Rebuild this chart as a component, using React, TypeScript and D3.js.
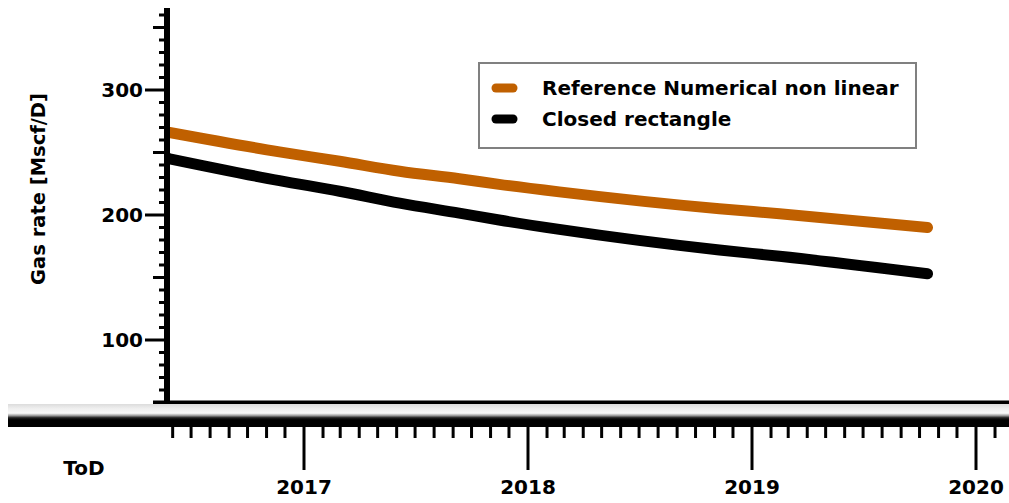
import React from "react";
import * as d3 from "d3";

const dates = ["2016-05-27", "2016-11-22", "2017-02-28", "2017-06-06", "2017-09-11", "2017-11-15", "2018-02-21", "2018-11-09", "2019-02-15", "2019-10-14"];
const refNumerical = [266, 250.5, 243, 235, 229, 224.5, 218.5, 205, 201, 190];
const closedRect = [245, 227.5, 219, 209.5, 201.5, 196, 188.5, 172, 167, 153];
const seriesNames = ["Reference Numerical non linear", "Closed rectangle"];
const seriesColors = ["#c06000", "#000000"];
const yTickLabels = [100, 200, 300];
const yearLabels = ["2017", "2018", "2019", "2020"];

const W = 1009;
const H = 503;
const FONT = "'DejaVu Sans', Verdana, sans-serif";

export default function App() {
  const parse = d3.timeParse("%Y-%m-%d");
  const x = d3
    .scaleTime()
    .domain([new Date(2017, 0, 1), new Date(2020, 0, 1)])
    .range([304, 976]);
  const y = d3.scaleLinear().domain([50, 300]).range([402.5, 90]);
  const axisX = 167;
  const yTop = 8;
  const yMax = y.invert(yTop);

  const line = d3
    .line<[Date, number]>()
    .x((d) => x(d[0]))
    .y((d) => y(d[1]))
    .curve(d3.curveMonotoneX);

  const series = [refNumerical, closedRect].map((vals) =>
    dates.map((s, i) => [parse(s) as Date, vals[i]] as [Date, number])
  );

  const yMinor = d3.range(60, Math.floor(yMax) + 1, 10);
  const monthTicks = d3.timeMonth.range(x.invert(axisX), x.invert(W + 5));

  return (
    <svg width={W} height={H} style={{ position: "absolute", left: 0, top: 0 }}>
      <defs>
        <linearGradient id="band" x1="0" y1="0" x2="0" y2="1">
          <stop offset="0" stopColor="#dcdcdc" />
          <stop offset="0.2" stopColor="#efefef" />
          <stop offset="0.4" stopColor="#fafafa" />
          <stop offset="0.5" stopColor="#a0a0a0" />
          <stop offset="0.6" stopColor="#202020" />
          <stop offset="0.7" stopColor="#000" />
          <stop offset="1" stopColor="#000" />
        </linearGradient>
      </defs>
      <rect x={0} y={0} width={W} height={H} fill="#fff" />

      {/* series */}
      <g>
        {series.map((s, i) => (
          <path
            key={i}
            d={line(s) || ""}
            fill="none"
            stroke={seriesColors[i]}
            strokeWidth={11}
            strokeLinecap="round"
            strokeLinejoin="round"
          />
        ))}
      </g>

      {/* y axis */}
      <rect x={axisX - 3} y={yTop} width={6} height={404 - yTop} fill="#000" />
      {yMinor.map((v) => {
        const len = v % 100 === 0 ? 22 : v % 50 === 0 ? 14 : 8;
        return (
          <line key={v} x1={axisX - len} x2={axisX} y1={y(v)} y2={y(v)} stroke="#000" strokeWidth={3} />
        );
      })}
      {yTickLabels.map((v) => (
        <text
          key={v}
          x={143}
          y={y(v)}
          textAnchor="end"
          dominantBaseline="central"
          fontFamily={FONT}
          fontWeight="bold"
          fontSize={20}
          fill="#000"
        >
          {v}
        </text>
      ))}
      {/* bottom frame line */}
      <rect x={153} y={y(50) - 2} width={W - 153} height={4} fill="#000" />

      {/* bevel band */}
      <rect x={8} y={404} width={W - 8} height={23} fill="url(#band)" />

      {/* x ticks */}
      {monthTicks.map((d, i) => {
        const major = d.getMonth() === 0;
        return (
          <line
            key={i}
            x1={x(d)}
            x2={x(d)}
            y1={426}
            y2={major ? 470 : 438}
            stroke="#000"
            strokeWidth={3}
          />
        );
      })}
      {yearLabels.map((lab) => (
        <text
          key={lab}
          x={x(new Date(+lab, 0, 1))}
          y={487}
          textAnchor="middle"
          dominantBaseline="central"
          fontFamily={FONT}
          fontWeight="bold"
          fontSize={20}
          fill="#000"
        >
          {lab}
        </text>
      ))}

      {/* axis titles */}
      <text x={84} y={468} textAnchor="middle" dominantBaseline="central" fontFamily={FONT} fontWeight="bold" fontSize={20} fill="#000">
        ToD
      </text>
      <text
        transform={`translate(38,${189}) rotate(-90)`}
        textAnchor="middle"
        dominantBaseline="central"
        fontFamily={FONT}
        fontWeight="bold"
        fontSize={19.5}
        fill="#000"
      >
        Gas rate [Mscf/D]
      </text>

      {/* legend */}
      <rect x={479} y={63} width={437} height={85} fill="#fff" stroke="#808080" strokeWidth={2} />
      {seriesNames.map((n, i) => {
        const cy = 88 + i * 31;
        return (
          <g key={n}>
            <line x1={496} x2={513} y1={cy} y2={cy} stroke={seriesColors[i]} strokeWidth={9} strokeLinecap="round" />
            <text x={542} y={cy + 7} fontFamily={FONT} fontWeight="bold" fontSize={20} fill="#000">
              {n}
            </text>
          </g>
        );
      })}
    </svg>
  );
}
